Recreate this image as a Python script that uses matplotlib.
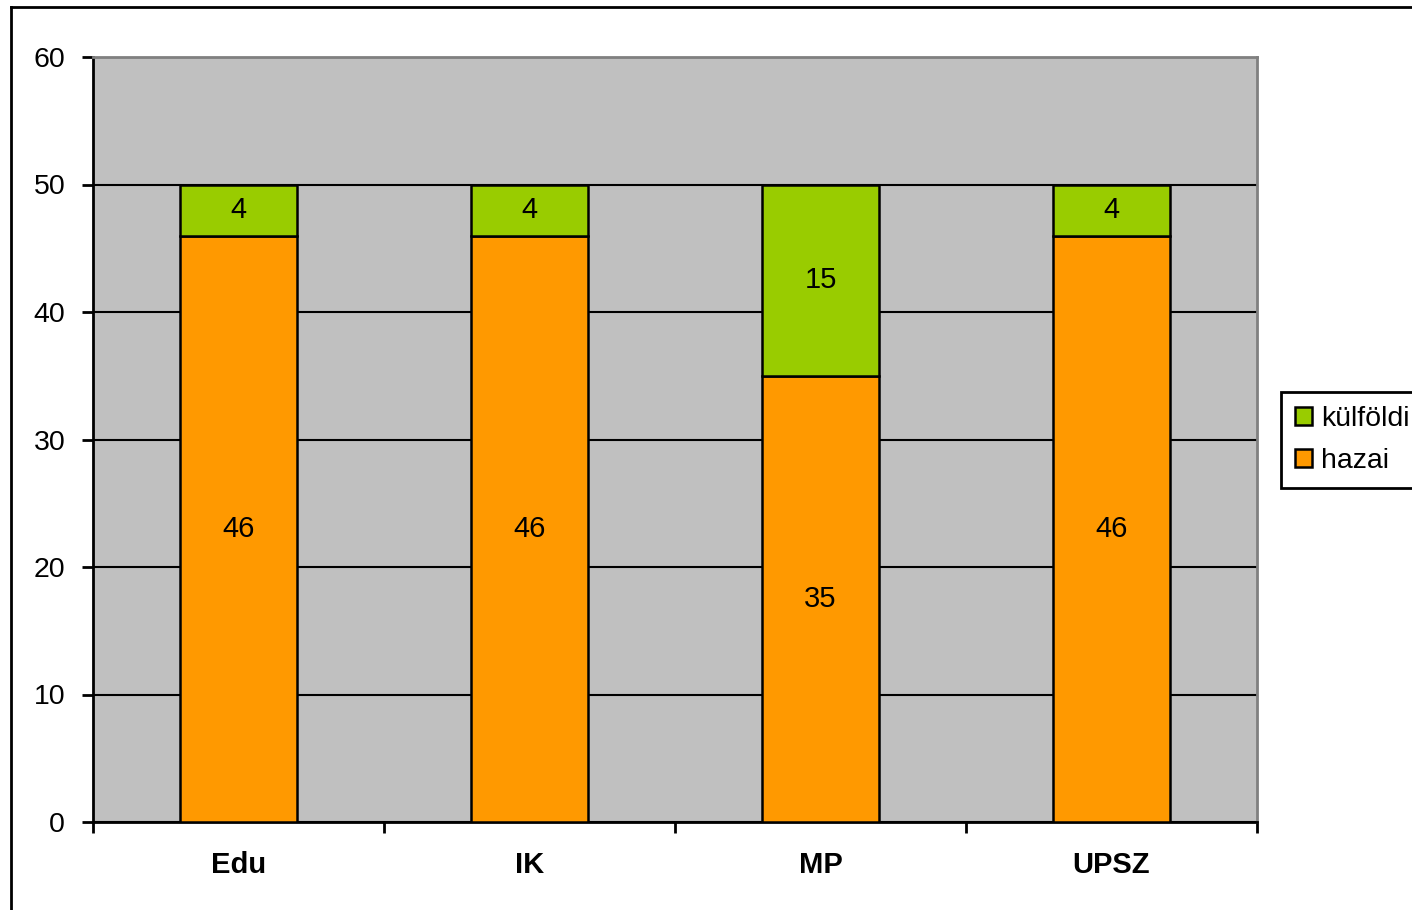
import numpy as np
import matplotlib.pyplot as plt
from matplotlib.patches import Patch
from matplotlib.lines import Line2D

plt.rcParams['font.family'] = ['Liberation Sans', 'DejaVu Sans']

#==============================================================
#                         data
#==============================================================
categories = ['Edu', 'IK', 'MP', 'UPSZ']
hazai      = [46, 46, 35, 46]
kulfoldi   = [4, 4, 15, 4]

c_hazai = '#FF9900'
c_kulf  = '#99CC00'

#==============================================================
#                         plot
#==============================================================
fig = plt.figure(figsize=(14.12, 9.10), dpi=100)
ax = fig.add_axes([93/1412, 1 - 822/910, (1257 - 93)/1412, (822 - 57)/910])
ax.set_facecolor('#C0C0C0')

x = np.arange(len(categories))
w = 0.405
b1 = ax.bar(x, hazai, w, color=c_hazai, edgecolor='black', lw=1.8, zorder=3)
b2 = ax.bar(x, kulfoldi, w, bottom=hazai, color=c_kulf, edgecolor='black', lw=1.8, zorder=3)

for i in range(len(categories)):
    ax.text(x[i], hazai[i]/2, str(hazai[i]), ha='center', va='center', fontsize=21, zorder=4)
    ax.text(x[i], hazai[i] + kulfoldi[i]/2, str(kulfoldi[i]), ha='center', va='center', fontsize=21, zorder=4)

ax.set_xlim(-0.5, len(categories) - 0.5)
ax.set_ylim(0, 60)
ax.set_yticks(np.arange(0, 61, 10))
ax.yaxis.grid(True, color='black', lw=1.5, zorder=0)
ax.set_axisbelow(True)

ax.set_xticks(np.arange(-0.5, len(categories)), minor=False)
ax.set_xticklabels([])
ax.set_xticks(x, minor=True)
ax.set_xticklabels(categories, minor=True, fontsize=21, fontweight='bold')
ax.tick_params(axis='x', which='minor', length=0, pad=21)
ax.tick_params(axis='x', which='major', length=8, width=2, direction='out')
ax.tick_params(axis='y', length=8, width=2, direction='out', labelsize=20.5, pad=12)

for s in ['left', 'bottom']:
    ax.spines[s].set_linewidth(2)
    ax.spines[s].set_color('black')
for s in ['top', 'right']:
    ax.spines[s].set_linewidth(2)
    ax.spines[s].set_color('#808080')

handles = [Patch(facecolor=c_kulf, edgecolor='black', lw=1.8),
           Patch(facecolor=c_hazai, edgecolor='black', lw=1.8)]
leg = fig.legend(handles, ['külföldi', 'hazai'], loc='upper left',
                 bbox_to_anchor=(1281/1412, 1 - 392/910), fontsize=20.5,
                 frameon=True, fancybox=False, edgecolor='black', framealpha=1,
                 handlelength=0.6, handleheight=0.6, handletextpad=0.3,
                 borderpad=0.5, labelspacing=0.55, borderaxespad=0)
leg.get_frame().set_linewidth(2)

# chart border
fig.add_artist(Line2D([11/1412, 11/1412], [0, 1 - 7/910], color='black', lw=2))
fig.add_artist(Line2D([11/1412, 1], [1 - 7/910, 1 - 7/910], color='black', lw=2))

fig.savefig('out.png', dpi=100)
